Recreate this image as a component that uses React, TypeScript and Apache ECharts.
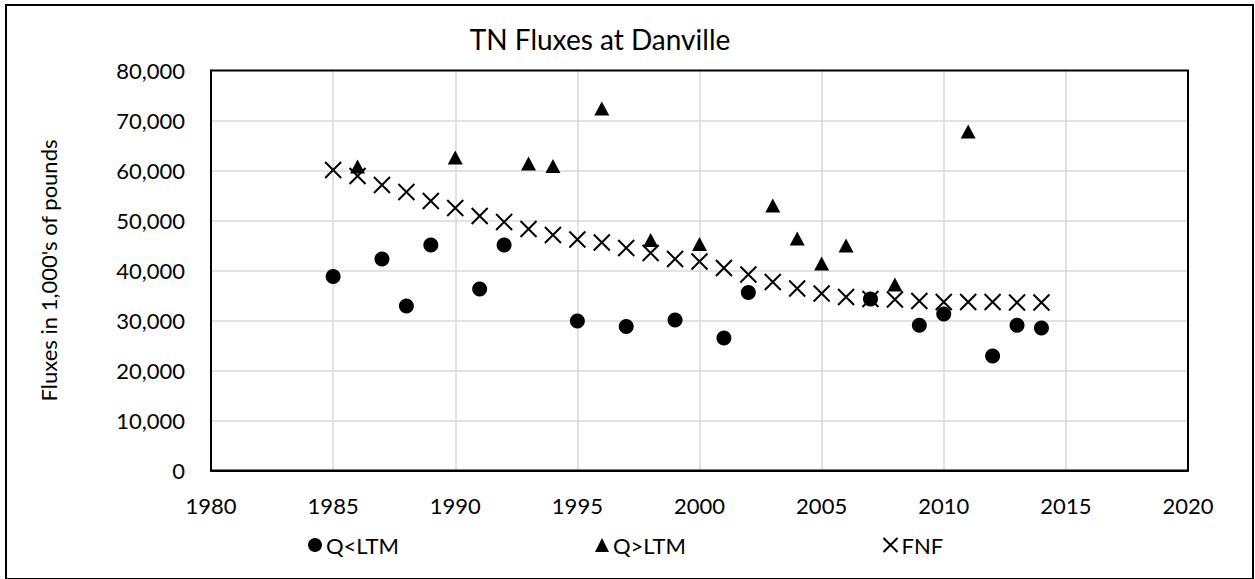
import React, { useEffect, useRef } from "react";
import * as echarts from "echarts";

const belowYears = [1985, 1987, 1988, 1989, 1991, 1992, 1995, 1997, 1999, 2001, 2002, 2007, 2009, 2010, 2012, 2013, 2014];
const belowValues = [38800, 42300, 32900, 45100, 36300, 45100, 29900, 28800, 30100, 26500, 35600, 34300, 29050, 31300, 22900, 29050, 28500];

const aboveYears = [1986, 1990, 1993, 1994, 1996, 1998, 2000, 2003, 2004, 2005, 2006, 2008, 2011];
const aboveValues = [60800, 62600, 61400, 60900, 72400, 46100, 45300, 53000, 46400, 41400, 45000, 37200, 67800];

const fnfYears = [1985, 1986, 1987, 1988, 1989, 1990, 1991, 1992, 1993, 1994, 1995, 1996, 1997, 1998, 1999, 2000, 2001, 2002, 2003, 2004, 2005, 2006, 2007, 2008, 2009, 2010, 2011, 2012, 2013, 2014];
const fnfValues = [60100, 58900, 57100, 55700, 53900, 52500, 50900, 49700, 48300, 47100, 46200, 45600, 44500, 43500, 42300, 41800, 40500, 39200, 37700, 36400, 35400, 34700, 34300, 34200, 33900, 33700, 33700, 33700, 33600, 33600];

const xTicks = { min: 1980, max: 2020, interval: 5 };
const yTicks = { min: 0, max: 80000, interval: 10000 };

const FONT = "Lato";
const X_PATH = "path://M0,0L10,10M10,0L0,10";

function pairs(xs: number[], ys: number[]) {
  return xs.map((x, i) => [x, ys[i]]);
}

export default function App() {
  const ref = useRef<HTMLDivElement>(null);
  useEffect(() => {
    if (!ref.current) return;
    const chart = echarts.init(ref.current, undefined, { renderer: "svg" });
    const legendBase = {
      top: 534,
      itemWidth: 14,
      itemHeight: 14,
      itemGap: 0,
      textStyle: { fontFamily: FONT, fontSize: 22, color: "#000", padding: [0, 0, 0, -1] },
      padding: 0,
    };
    const split = { show: true, showMinLine: false, showMaxLine: false, lineStyle: { color: "#d9d9d9", width: 1.5 } };
    chart.setOption({
      animation: false,
      backgroundColor: "#fff",
      title: {
        text: "TN Fluxes at Danville",
        left: 595,
        top: 20,
        textAlign: "center",
        textStyle: { fontFamily: FONT, fontSize: 28, fontWeight: "normal", color: "#000" },
      },
      grid: {
        left: 211,
        right: 67,
        top: 70.5,
        bottom: 108.5,
        show: true,
        borderColor: "#000",
        borderWidth: 2,
        containLabel: false,
        z: 5,
      },
      legend: [
        { ...legendBase, left: 308, data: ["Q<LTM"] },
        { ...legendBase, left: 595, data: ["Q>LTM"] },
        { ...legendBase, left: 881, data: ["FNF"] },
      ],
      xAxis: {
        type: "value",
        min: xTicks.min,
        max: xTicks.max,
        interval: xTicks.interval,
        axisLine: { show: true, lineStyle: { color: "#000", width: 2 } },
        axisTick: { show: false },
        axisLabel: { fontFamily: FONT, fontSize: 22, color: "#000", margin: 24, formatter: (v: number) => String(v) },
        splitLine: split,
      },
      yAxis: {
        type: "value",
        min: yTicks.min,
        max: yTicks.max,
        interval: yTicks.interval,
        name: "Fluxes in 1,000's of pounds",
        nameLocation: "middle",
        nameGap: 152,
        nameRotate: 90,
        nameTextStyle: { fontFamily: FONT, fontSize: 22, color: "#000" },
        axisLine: { show: true, lineStyle: { color: "#000", width: 2 } },
        axisTick: { show: false },
        axisLabel: {
          fontFamily: FONT,
          fontSize: 22,
          color: "#000",
          margin: 26,
          formatter: (v: number) => v.toLocaleString("en-US"),
        },
        splitLine: split,
      },
      series: [
        {
          name: "Q<LTM",
          type: "scatter",
          symbol: "circle",
          symbolSize: 15,
          itemStyle: { color: "#000", opacity: 1 },
          data: pairs(belowYears, belowValues),
          z: 3,
        },
        {
          name: "Q>LTM",
          type: "scatter",
          symbol: "triangle",
          symbolSize: [15, 14],
          itemStyle: { color: "#000", opacity: 1 },
          data: pairs(aboveYears, aboveValues),
          z: 3,
        },
        {
          name: "FNF",
          type: "scatter",
          symbol: X_PATH,
          symbolSize: 16,
          itemStyle: { color: "none", borderColor: "#000", borderWidth: 2, opacity: 1 },
          data: pairs(fnfYears, fnfValues),
          z: 2,
        },
      ],
      graphic: [
        {
          type: "rect",
          shape: { x: 6, y: 5, width: 1247, height: 574 },
          style: { fill: "none", stroke: "#000", lineWidth: 2 },
          silent: true,
        },
      ],
    });
    return () => chart.dispose();
  }, []);
  return (
    <div
      ref={ref}
      style={{ position: "fixed", left: 0, top: 0, width: 1255, height: 579 }}
    />
  );
}
